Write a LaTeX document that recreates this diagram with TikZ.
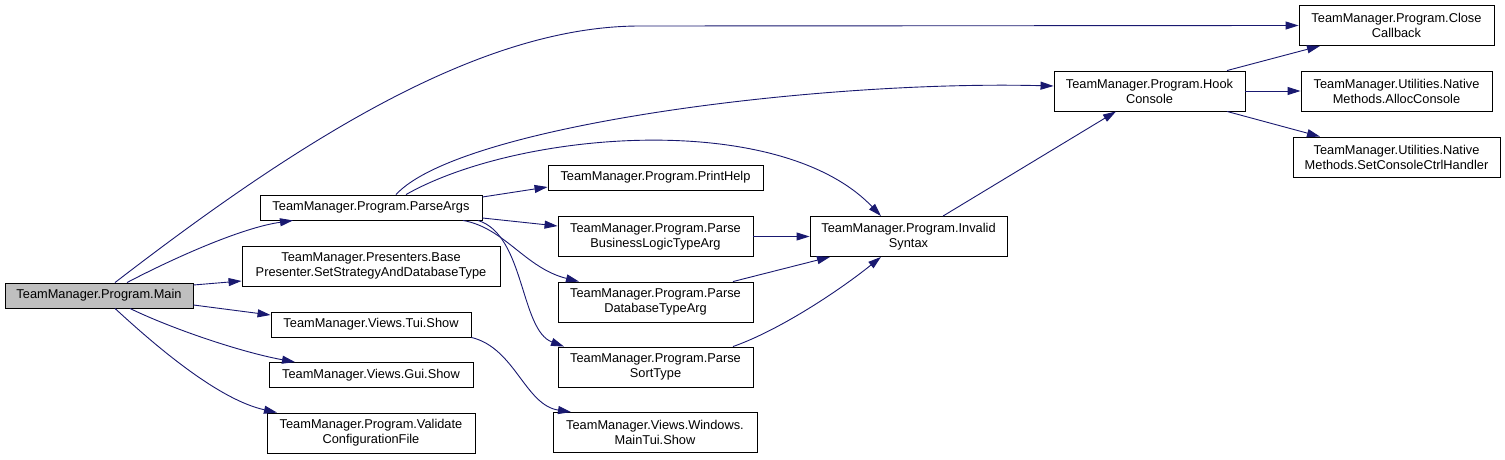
\documentclass[tikz,border=0pt]{standalone}
\usepackage{fontspec}
\setmainfont{Liberation Sans}
\usetikzlibrary{arrows.meta}
\definecolor{edgeblue}{HTML}{191970}
\definecolor{maingray}{HTML}{BFBFBF}
\begin{document}
\begin{tikzpicture}[x=1pt,y=-1pt,
  box/.style={draw=black,line width=0.9pt,fill=white,inner sep=0pt,align=center,
    font=\fontsize{12.8}{15}\selectfont},
  h1/.style={minimum height=25pt},
  h2/.style={minimum height=40pt},
  call/.style={draw=edgeblue,line width=0.9pt,-{Triangle[length=13pt,width=8pt,fill=edgeblue]}}]
\useasboundingbox (0,0) rectangle (1505,460);
\fill[white] (0,0) rectangle (1505,460);
% nodes
\node[box,h1,minimum width=188pt,fill=maingray] (main) at (99,295.5) {TeamManager.Program.Main};
\node[box,h1,minimum width=222pt] (parseargs) at (371,207.5) {TeamManager.Program.ParseArgs};
\node[box,h2,minimum width=258pt] (base) at (371,266) {TeamManager.Presenters.Base\\Presenter.SetStrategyAndDatabaseType};
\node[box,h1,minimum width=200pt] (tui) at (371,324.5) {TeamManager.Views.Tui.Show};
\node[box,h1,minimum width=204pt] (gui) at (371,375) {TeamManager.Views.Gui.Show};
\node[box,h2,minimum width=208pt] (validate) at (371,433) {TeamManager.Program.Validate\\ConfigurationFile};
\node[box,h1,minimum width=215pt] (printhelp) at (655.5,177.5) {TeamManager.Program.PrintHelp};
\node[box,h2,minimum width=195pt] (business) at (655.5,236.5) {TeamManager.Program.Parse\\BusinessLogicTypeArg};
\node[box,h2,minimum width=195pt] (database) at (655.5,302) {TeamManager.Program.Parse\\DatabaseTypeArg};
\node[box,h2,minimum width=195pt] (sort) at (655.5,367) {TeamManager.Program.Parse\\SortType};
\node[box,h2,minimum width=204pt] (maintui) at (655,432.5) {TeamManager.Views.Windows.\\MainTui.Show};
\node[box,h2,minimum width=197pt] (invalid) at (908.5,236.5) {TeamManager.Program.Invalid\\Syntax};
\node[box,h2,minimum width=191pt] (hook) at (1149.5,91) {TeamManager.Program.Hook\\Console};
\node[box,h2,minimum width=195pt] (close) at (1396.5,25.5) {TeamManager.Program.Close\\Callback};
\node[box,h2,minimum width=191pt] (alloc) at (1396.5,91) {TeamManager.Utilities.Native\\Methods.AllocConsole};
\node[box,h2,minimum width=207pt] (setconsole) at (1396.5,157) {TeamManager.Utilities.Native\\Methods.SetConsoleCtrlHandler};
% edges from Main
\draw[call] (main.north -| 115,0) .. controls (300,140) and (480,26) .. (640,26) -- (close.west);
\draw[call] (main.north -| 127,0) .. controls (170,260) and (240,228) .. (parseargs.south -| 293,0);
\draw[call] (main.east |- 0,285) -- (base.west |- 0,281);
\draw[call] (main.east |- 0,305) -- (tui.west |- 0,315);
\draw[call] (main.south -| 130,0) .. controls (170,328) and (240,352) .. (gui.north -| 295,0);
\draw[call] (main.south -| 115,0) .. controls (160,350) and (220,400) .. (validate.north -| 277,0);
% edges from ParseArgs
\draw[call] (parseargs.north -| 396,0) .. controls (460,125) and (820,80) .. (hook.west |- 0,86);
\draw[call] (parseargs.north -| 406,0) .. controls (520,130) and (780,110) .. (invalid.north -| 881,0);
\draw[call] (parseargs.east |- 0,197) -- (printhelp.west |- 0,187);
\draw[call] (parseargs.east |- 0,218) -- (business.west |- 0,226);
\draw[call] (parseargs.south -| 463,0) .. controls (505,228) and (525,268) .. (database.north -| 579,0);
\draw[call] (parseargs.south -| 478,0) .. controls (525,235) and (520,330) .. (sort.north -| 564,0);
% edges to InvalidSyntax
\draw[call] (business.east) -- (invalid.west);
\draw[call] (database.north -| 733,0) -- (invalid.south -| 830,0);
\draw[call] (sort.north -| 733,0) .. controls (780,330) and (840,290) .. (invalid.south -| 881,0);
\draw[call] (invalid.north -| 943,0) -- (hook.south -| 1116,0);
% Tui -> MainTui
\draw[call] (tui.south east) .. controls (515,348) and (525,405) .. (maintui.north -| 571,0);
% HookConsole
\draw[call] (hook.north -| 1227,0) -- (close.south -| 1320,0);
\draw[call] (hook.east) -- (alloc.west);
\draw[call] (hook.south -| 1227,0) -- (setconsole.north -| 1320,0);
\end{tikzpicture}
\end{document}
